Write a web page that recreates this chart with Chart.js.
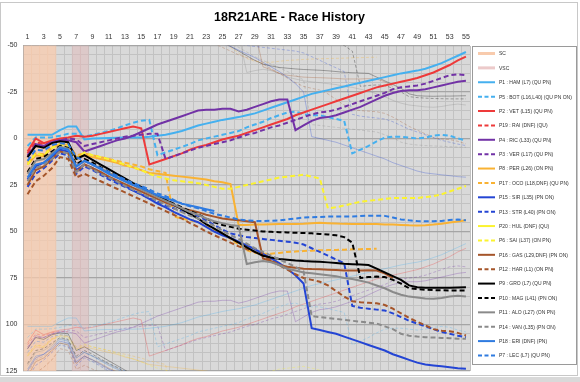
<!DOCTYPE html>
<html>
<head>
<meta charset="utf-8">
<script src="https://cdn.jsdelivr.net/npm/chart.js@4.4.1/dist/chart.umd.min.js"></script>
<style>
  html, body { margin: 0; padding: 0; background: #fff; }
  #wrap { position: relative; width: 580px; height: 382px; overflow: hidden; }
  #frame { position: absolute; left: 0; top: 2px; width: 576px; height: 372px; border: 1px solid #c8c8c8; pointer-events: none; }
  #strip { position: absolute; left: 0; top: 377px; width: 580px; height: 5px; background: #d9d9d9; }
</style>
</head>
<body>
<div id="wrap">
  <canvas id="chart" width="580" height="382"></canvas>
  <div id="frame"></div>
  <div id="strip"></div>
</div>
<script>
// Race history: gap (s) to reference per lap, one array per driver
const laps = [1,2,3,4,5,6,7,8,9,10,11,12,13,14,15,16,17,18,19,20,21,22,23,24,25,26,27,28,29,30,
  31,32,33,34,35,36,37,38,39,40,41,42,43,44,45,46,47,48,49,50,51,52,53,54,55];
const yTicks = [-50, -25, 0, 25, 50, 75, 100, 125];
const scLaps = [1, 2, 3, 4];
const vscLaps = [7, 8];
const lapSeconds = 103; // faint copies: one lap up / one lap down

const ham = [-2,-2,-2,-2,-4.5,-6.5,-6.5,0.5,0,-0.2, -0.3,-0.4,-0.5,-0.5,-0.6,-1,-1.5,-2,-3,-4,
  -5.5,-7,-8,-9,-10,-10.8,-11.5,-12.5,-13.5,-15, -16.5,-18,-19.5,-21,-22.5,-24,-25,-26,-27,-28,
  -29,-30,-31,-32,-33,-34,-35,-35.8,-36.5,-37.5, -39,-40.5,-42.5,-44.5,-46.5];
const bot = [4,-0.5,-0.5,-0.7,-1.5,-2.5,-2.5,-1,-2,-3, -4,-5.5,-7,-8.5,-9.5,-10,9,7.5,6,4.5,
  3,1,0,-1,-2,-3,-4,-6,-7.5,-9, -11,-12.5,-14,-14.5,-13,-12.5,-12.5,-11.5,-10.5,-9.5,
  8,6,4,1.5,-0.5,-1,-1,-0.5,0,-0.5, -1.5,-2,-1.5,0,1];
const vet = [7,0,2.5,1,0,-0.5,-1.5,-1,-1.5,-2.5, -3.5,-4.5,-5.5,-6.5,-5.5,14,12.5,11,9.5,8,
  6,4.5,3.5,2,0.5,-0.5,-1.5,-3,-4.5,-6, -7.5,-9,-10.5,-12.5,-14,-15.5,-17,-18.5,-20,-21.5,
  -23,-24.5,-26,-27.5,-28.5,-29.5,-30.5,-31.5,-32.5,-34, -35.5,-37.5,-39.5,-42,-44];
const rai = [8,2,3,1.5,0.5,1];
const ric = [10,3,4,2,1,1,2,7,5.5,4, 2.5,1,0,-1.5,-3.5,-5.5,-7.5,-9,-10.5,-12,
  -13.5,-15,-15.5,-15.5,-16,-16,-14.5,-15.5,-17,-18.5, -20,-21,-21,-4.5,-7,-9.5,-11,-11.5,-12.5,-14,
  -15.5,-17,-19,-21,-23,-24.5,-25.5,-26,-26,-26.5, -27.5,-28.5,-29.5,-30.5,-31];
const ver = [9,4,4,2,1,0,0.5,4,3,2, 1,0,-1,-1.5,-2,-2.5,-2.5,11,9.5,8,
  6.5,5,4,3,2,1,-0.5,-2,-3,-4.5, -6,-7,-8.5,-10,-11.5,-13,-14,-14.5,-15.5,-17,
  -18.5,-20,-21.5,-23,-24.5,-26.5,-27.5,-28,-28.5,-29.5, -31,-32.5,-34,-34.5,-34];
const per = [14,9,9.5,5,3,3.5,10,9,10,11, 12,13,14.5,15.5,17,18.5,19,19.5,20,20.5,
  21,21.5,22,23,23.5,24.5,46.5,46.5,46.3,46.2, 46.1,46,46,46,45.8,45.5,45.3,45.5,45.7,45.9,
  46,46,46,46,46.2,46.3,46.5,46.7,46.8,46.6, 46.3,45.8,45.2,44.6,44];
const oco = [13,8,8.5,4.5,2.5,3,9,8,9,10, 11,12,13,14,15,16.5,17.5,18.5,42,43,
  44,45,47,49,51,54,57,60,61.5,62, 62,61.5,61,60.8,60.5,60.3,60.1,60,59.9,59.8,
  59.6,59.5,59.4,59.3];
const sir = [22,15,13,10,6,7,17,14,16,18.5, 21,23,25.5,28,30,32.5,35,37,39.5,41.5,
  43.5,45,47.5,50,52,53.5,55.5,57.5,59.5,62, 64.5,67,70,73.5,78,102,103,104,105,106.5,
  108,109.5,111,112.5,114,116,117.5,119,120.5,121.5, 122,122.5,123,123.5,123.8];
const str = [26,19,16,12,8,9,19,15,17,19.5, 22,24,26,28,30,32,34,36,37.5,39,
  40.5,41.5,44,46.5,49,51,52,53,53.5,54, 54.5,55,55.5,56,57,59,61,63,65,67,
  90,91,91.5,92,92.5,94,96,98,99.5,101, 102.5,104,105,106,106.8];
const hul = [16];
const sai = [14,8,9,5,3.5,4,11,7.5,9,10, 11,12.5,14,15.5,17,19,20.5,21.5,22.5,23,
  23.5,24,25,26,27,27,26,25,24,23, 22,21,20.5,20,19.5,20.5,21.5,37.5,37,36,
  35,34,33.5,33,32.5,32,32,32,32,31.5, 31,30,28.5,27,25.5];
const gas = [25,17,15,11,7,8,18,14,16,18, 20.5,22.5,24.5,26.5,28.5,30.5,32.5,34.5,36,37.5,
  38.5,39.6,41,42,43,43.5,44,44.5,45,64.5, 66,68,69,69.5,70,70.2,70.3,70.5,70.7,71,
  71,71,70.8,71,72.5,75];
const har = [30,23,20,16,10,11,21,19,21,23, 25,27,29,31,33,35,37,39,41,43,
  45.5,47.5,50,52,54,56,58,59.5,61,63, 65.5,68,70.5,73,75,76,77,79,82,85,
  87.5,88,88.3,88.6,89.5,91.5,94,96.5,98.5,100.5, 102.5,103.3,103.6,104.5,105.9];
const gro = [10,4,5,2.5,1.5,2,11,9,11.5,14, 16.5,19,21.5,24,26,28.5,31,33,35.5,38,
  40.5,43,46,48.5,51,53.5,56,58.5,61,63, 64,64.8,65.2,65.6,65.9,66.1,66.3,66.6,67,67.4,
  67.6,67.8,68,70,72,74,76,79,80,80.2, 80.3,80.2,80.2,80.1,80];
const mag = [18,11,10,7,4,5,14,11,13,15.5, 18,20,22.5,24.5,27,29,31,33,35,37,
  39,40.7,43,45,46.5,47.5,48.5,49,49.5,50, 50.2,50.4,50.5,50.7,50.8,51,51.3,51.6,52,53,
  56,75,74.5,74.2,74.5,76,78,80.5,81,81.3, 81.5,81.6,81.7,81.7,81.7];
const alo = [19,12,11,8,4.5,5.5,15,12,14,16, 18.5,20.5,23,25,27.5,29.5,31.5,33.5,35.5,37.5,
  39.5,41,43,44.5,45.5,46.5,47,67.5,66.5,65.8, 66.5,68,70,71,72,72.5,73,73.5,74,75,
  75.5,76.5,77.5,79,80.5,82.5,84,85,85.5,86, 86.2,85.8,85,84.5,85];
const van = [23,16,14,11,7,8,18,14,16.5,19, 21,23,25.5,27.5,29.5,31.5,33.5,35.5,37.5,39.5,
  41.5,43,45,47,49.5,52,54,56.5,59,61, 63,65,67,69,71.5,95.5,96,96.5,97,97.5,
  98,98.5,99,99.5,101,102.5,105,106,106.5,106.8, 107,107.2,107.4,107.6,107.7];
const eri = [21,14,13,9,5,6,15,12,14,16.5, 19,21,23,25,26.5,28.5,30.5,32,33.5,35,
  36,37,38,39];
const lec = [12,6,6.5,3.5,2.5,3,10,12,14,16, 18,20,22,24,25.5,27.5,29.5,31,33,35,
  36.5,37.5,39,40.5,41.5,42.5,43.5,44,44.3,44.4, 44.2,44,43.5,43,42.5,42.3,42.2,42,42,42,
  42,41.7,41.5,41.5,41.6,42.5,43.5,44,44.4,44.5, 44.5,44.3,43.8,43.6,44];

const drivers = [
  { label: 'P1 : HAM (L7) (QU PN)', data: ham, color: '#45b0ef', dash: false },
  { label: 'P5 : BOT (L16,L40) (QU PN ON)', data: bot, color: '#45b0ef', dash: true },
  { label: 'P2 : VET (L15) (QU PN)', data: vet, color: '#ee3a3a', dash: false },
  { label: 'P19 : RAI (DNF) (QU)', data: rai, color: '#ee3a3a', dash: true },
  { label: 'P4 : RIC (L33) (QU PN)', data: ric, color: '#7232a6', dash: false },
  { label: 'P3 : VER (L17) (QU PN)', data: ver, color: '#7232a6', dash: true },
  { label: 'P8 : PER (L26) (ON PN)', data: per, color: '#f9b233', dash: false },
  { label: 'P17 : OCO (L18,DNF) (QU PN)', data: oco, color: '#f9b233', dash: true },
  { label: 'P15 : SIR (L35) (PN ON)', data: sir, color: '#2445d4', dash: false },
  { label: 'P13 : STR (L40) (PN ON)', data: str, color: '#2445d4', dash: true },
  { label: 'P20 : HUL (DNF) (QU)', data: hul, color: '#fbf32f', dash: false },
  { label: 'P6 : SAI (L37) (ON PN)', data: sai, color: '#fbf32f', dash: true },
  { label: 'P16 : GAS (L29,DNF) (PN ON)', data: gas, color: '#a5552a', dash: false },
  { label: 'P12 : HAR (L1) (ON PN)', data: har, color: '#a5552a', dash: true },
  { label: 'P9 : GRO (L7) (QU PN)', data: gro, color: '#000000', dash: false },
  { label: 'P10 : MAG (L41) (PN ON)', data: mag, color: '#000000', dash: true },
  { label: 'P11 : ALO (L27) (ON PN)', data: alo, color: '#8a8a8a', dash: false },
  { label: 'P14 : VAN (L35) (PN ON)', data: van, color: '#8a8a8a', dash: true },
  { label: 'P18 : ERI (DNF) (PN)', data: eri, color: '#2f7be0', dash: false },
  { label: 'P7 : LEC (L7) (QU PN)', data: lec, color: '#2f7be0', dash: true }
];

const yMin = yTicks[0];
const yMax = yTicks[yTicks.length - 1];
const scColor = 'rgba(248, 203, 173, 0.75)';
const vscColor = 'rgba(225, 185, 185, 0.5)';
const font = '"Liberation Sans", Arial, sans-serif';

function fade(hex, a) {
  const n = parseInt(hex.slice(1), 16);
  return `rgba(${(n >> 16) & 255}, ${(n >> 8) & 255}, ${n & 255}, ${a})`;
}

const datasets = [];

drivers.forEach((d, i) => {
  datasets.push({
    type: 'line',
    label: d.label,
    data: d.data,
    yAxisID: 'y',
    borderColor: d.color,
    borderWidth: 2,
    borderDash: d.dash ? [5, 3] : [],
    pointRadius: 0,
    fill: false,
    order: drivers.length - i
  });
});

// faint copies of every trace, one lap behind and one lap ahead
drivers.forEach(d => {
  ['yLow', 'yHigh'].forEach(axis => {
    datasets.push({
      type: 'line',
      label: '',
      data: d.data,
      yAxisID: axis,
      borderColor: fade(d.color, 0.3),
      borderWidth: 1,
      borderDash: d.dash ? [3, 2] : [],
      pointRadius: 0,
      fill: false,
      order: 40
    });
  });
});

datasets.push({
  type: 'bar', label: 'SC', yAxisID: 'y',
  data: laps.map(l => scLaps.includes(l) ? [yMin, yMax] : null),
  backgroundColor: scColor, barPercentage: 1, categoryPercentage: 1, grouped: false, order: 50
});
datasets.push({
  type: 'bar', label: 'VSC', yAxisID: 'y',
  data: laps.map(l => vscLaps.includes(l) ? [yMin, yMax] : null),
  backgroundColor: vscColor, barPercentage: 1, categoryPercentage: 1, grouped: false, order: 50
});

const plotBackground = {
  id: 'plotBackground',
  beforeDraw(chart) {
    const { ctx, chartArea: a } = chart;
    ctx.save();
    ctx.fillStyle = '#d9d9d9';
    ctx.fillRect(a.left, a.top, a.right - a.left, a.bottom - a.top);
    ctx.restore();
  }
};

const titleAndLegend = {
  id: 'titleAndLegend',
  afterDraw(chart) {
    const ctx = chart.ctx;
    ctx.save();
    ctx.fillStyle = '#000';
    ctx.font = 'bold 12.5px "Liberation Sans", sans-serif';
    ctx.textAlign = 'center';
    ctx.textBaseline = 'middle';
    ctx.fillText('18R21ARE - Race History', 289.5, 18);

    // legend box
    ctx.fillStyle = '#fff';
    ctx.fillRect(472.5, 46.5, 104, 318);
    ctx.strokeStyle = '#9a9a9a';
    ctx.lineWidth = 1;
    ctx.strokeRect(472.5, 46.5, 104, 318);

    const entries = [
      { label: 'SC', color: '#f8cbad', dash: false, width: 3 },
      { label: 'VSC', color: '#eccaca', dash: false, width: 3 }
    ].concat(drivers.map(d => ({ label: d.label, color: d.color, dash: d.dash, width: 2 })));

    ctx.textAlign = 'left';
    ctx.font = '5px ' + font;
    entries.forEach((e, i) => {
      const y = 53.5 + i * 14.38;
      ctx.beginPath();
      ctx.strokeStyle = e.color;
      ctx.lineWidth = e.width;
      ctx.setLineDash(e.dash ? [4, 2.5] : []);
      ctx.moveTo(478, y);
      ctx.lineTo(495, y);
      ctx.stroke();
      ctx.setLineDash([]);
      ctx.fillStyle = '#333';
      ctx.fillText(e.label, 499, y + 0.5);
    });
    ctx.restore();
  }
};

new Chart(document.getElementById('chart'), {
  type: 'line',
  data: { labels: laps, datasets: datasets },
  options: {
    responsive: false,
    animation: false,
    events: [],
    layout: { padding: { left: 0, right: 110, top: 28, bottom: 11 } },
    plugins: {
      legend: { display: false },
      tooltip: { enabled: false },
      title: { display: false }
    },
    scales: {
      x: {
        type: 'category',
        position: 'top',
        offset: true,
        grid: { offset: true, color: '#c2c2c2', lineWidth: 1, drawTicks: false },
        border: { display: false },
        ticks: {
          autoSkip: false,
          maxRotation: 0,
          padding: 4,
          color: '#333',
          font: { family: font, size: 7 },
          callback: (v, i) => (i % 2 === 0 ? laps[i] : '')
        },
        afterFit: s => { s.height = 17.5; }
      },
      y: {
        min: yMin,
        max: yMax,
        reverse: true,
        grid: {
          color: c => (yTicks.includes(c.tick.value) ? '#a5a5a5' : '#c2c2c2'),
          lineWidth: c => (yTicks.includes(c.tick.value) ? 1.3 : 1),
          drawTicks: false
        },
        border: { display: true, color: '#a5a5a5' },
        ticks: {
          stepSize: 5,
          autoSkip: false,
          padding: 6,
          color: '#333',
          font: { family: font, size: 7 },
          callback: v => (yTicks.includes(v) ? v : '')
        },
        afterFit: s => { s.width = 23.5; }
      },
      yLow: { display: false, reverse: true, min: yMin - lapSeconds, max: yMax - lapSeconds },
      yHigh: { display: false, reverse: true, min: yMin + lapSeconds, max: yMax + lapSeconds }
    }
  },
  plugins: [plotBackground, titleAndLegend]
});
</script>
</body>
</html>
